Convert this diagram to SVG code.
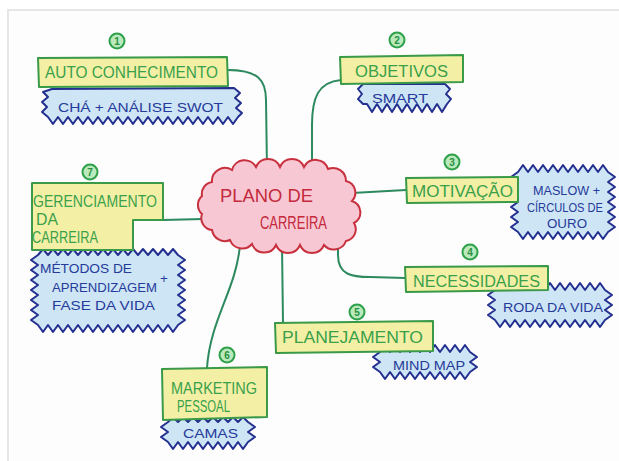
<svg xmlns="http://www.w3.org/2000/svg" width="619" height="461" viewBox="0 0 619 461">
<style>
.box{fill:#f3f0a6;stroke:#3a9a48;stroke-width:2;stroke-linejoin:round}
.cloud{fill:#cde5f5;stroke:#24308f;stroke-width:2;stroke-linejoin:round}
.center{fill:#f7c8d4;stroke:#c8303e;stroke-width:2}
.conn{fill:none;stroke:#2d8a5f;stroke-width:2;stroke-linecap:round}
.num{fill:#b9e9bd;stroke:#2fa04a;stroke-width:2}
.numt{font-family:"Liberation Sans",Arial,sans-serif;font-size:10px;font-weight:bold;fill:#2a9040;text-anchor:middle}
.bt{font-family:"Liberation Sans",Arial,sans-serif;font-size:16px;fill:#3aa04a}
.ct{font-family:"Liberation Sans",Arial,sans-serif;font-size:13.5px;fill:#253a9a}
.rt{font-family:"Liberation Sans",Arial,sans-serif;font-size:19px;fill:#c42a3c}
</style>
<rect x="0" y="0" width="619" height="461" fill="#ffffff"/>
<rect x="8" y="10" width="612" height="452" fill="#fdfdfd"/>
<path d="M8,461 L8,10 L619,10" fill="none" stroke="#e6e6e6" stroke-width="2"/>

<g id="connectors">
<path class="conn" d="M228,70 C258,70 266,80 266,100 L267,169"/>
<path class="conn" d="M341,80 C318,82 312,98 312,125 L312,168"/>
<path class="conn" d="M352,193 L406,190"/>
<path class="conn" d="M338,245 L338,255 C338,275 352,277 370,277 L405,278"/>
<path class="conn" d="M282,245 L283,323"/>
<path class="conn" d="M240,245 C236,290 210,320 207,368"/>
<path class="conn" d="M163,220 L203,219"/>
</g>

<g id="center">
<path class="center" d="M212,182 a13,13 0 0 1 20,-12 a13,13 0 0 1 24,-3 a13,13 0 0 1 24,0 a13,13 0 0 1 24,0 a13,13 0 0 1 24,2 a13,13 0 0 1 18,12 a12,12 0 0 1 6,20 a12,12 0 0 1 2,22 a12,12 0 0 1 -8,18 a13,13 0 0 1 -22,4 a13,13 0 0 1 -24,0 a13,13 0 0 1 -24,0 a13,13 0 0 1 -24,-1 a13,13 0 0 1 -22,-4 a13,13 0 0 1 -18,-10 a12,12 0 0 1 -10,-16 a12,12 0 0 1 0,-18 a12,12 0 0 1 10,-14 Z"/>
<text class="rt" x="220" y="202" textLength="93" lengthAdjust="spacingAndGlyphs">PLANO DE</text>
<text class="rt" x="260" y="229" textLength="67" lengthAdjust="spacingAndGlyphs">CARREIRA</text>
</g>

<g id="n1">
<circle class="num" cx="117" cy="41" r="7.5"/><text class="numt" x="117" y="44.5">1</text>
<path class="cloud" d="M52,89 L234,88 l6,5 -5,5 6,5 -5,5 6,5 -4,4 l-5,7 -5,-7 -5,7 -5,-7 -5,7 -5,-7 -5,7 -5,-7 -5,7 -5,-7 -5,7 -5,-7 -5,7 -5,-7 -5,7 -5,-7 -5,7 -5,-7 -5,7 -5,-7 -5,7 -5,-7 -5,7 -5,-7 -5,7 -5,-7 -5,7 -5,-7 -5,7 -5,-7 -5,7 -5,-7 -5,7 -5,-7 -5,7 -5,-7 -5,7 -5,-7 l-6,-5 5,-5 -5,-5 6,-5 -5,-5 Z"/>
<polygon class="box" points="38,58 227,57 228,86 39,87"/>
<text class="bt" x="45" y="78" textLength="173" lengthAdjust="spacingAndGlyphs">AUTO CONHECIMENTO</text>
<text class="ct" x="58" y="112" textLength="165" lengthAdjust="spacingAndGlyphs">CHÁ + ANÁLISE SWOT</text>
</g>

<g id="n2">
<circle class="num" cx="397" cy="40" r="7.5"/><text class="numt" x="397" y="43.5">2</text>
<path class="cloud" d="M363,84 L445,84 l5,5 -4,5 5,5 -4,5 l-5,8 -5,-8 -5,8 -5,-8 -5,8 -5,-8 -5,8 -5,-8 -5,8 -5,-8 -5,8 -5,-8 -5,8 -5,-8 -5,8 -5,-8 l-4,0 l-5,-5 4,-5 -4,-5 5,-5 Z"/>
<polygon class="box" points="340,57 463,55 463,82 341,84"/>
<text class="bt" x="355" y="77" textLength="93" lengthAdjust="spacingAndGlyphs">OBJETIVOS</text>
<text class="ct" x="372" y="103" textLength="56" lengthAdjust="spacingAndGlyphs">SMART</text>
</g>

<g id="n3">
<circle class="num" cx="452" cy="162" r="7.5"/><text class="numt" x="452" y="165.5">3</text>
<path class="cloud" d="M518,172 l5,-7 5,7 5,-7 5,7 5,-7 5,7 5,-7 5,7 5,-7 5,7 5,-7 5,7 5,-7 5,7 5,-7 5,7 5,-7 5,7 l7,5 -7,5 7,5 -7,5 7,5 -7,5 7,5 -7,5 7,5 -7,5 7,5 -7,5 l-5,7 -5,-7 -5,7 -5,-7 -5,7 -5,-7 -5,7 -5,-7 -5,7 -5,-7 -5,7 -5,-7 -5,7 -5,-7 -5,7 -5,-7 -5,7 -5,-7 l-7,-5 7,-5 -7,-5 7,-5 -7,-5 7,-5 -7,-5 7,-5 -7,-5 7,-5 -7,-5 7,-5 Z"/>
<polygon class="box" points="406,178 518,177 518,202 407,203"/>
<text class="bt" x="412" y="197" textLength="101" lengthAdjust="spacingAndGlyphs">MOTIVAÇÃO</text>
<text class="ct" x="533" y="195" textLength="67" lengthAdjust="spacingAndGlyphs">MASLOW +</text>
<text class="ct" x="527" y="212" textLength="76" lengthAdjust="spacingAndGlyphs">CÍRCULOS DE</text>
<text class="ct" x="547" y="228" textLength="40" lengthAdjust="spacingAndGlyphs">OURO</text>
</g>

<g id="n4">
<circle class="num" cx="470" cy="252" r="7.5"/><text class="numt" x="470" y="255.5">4</text>
<path class="cloud" d="M495,290 l5,-7 5,7 5,-7 5,7 5,-7 5,7 5,-7 5,7 5,-7 5,7 5,-7 5,7 5,-7 5,7 5,-7 5,7 5,-7 5,7 5,-7 5,7 5,-7 5,7 l7,5 -7,5 7,5 -7,5 7,5 -7,5 l-5,7 -5,-7 -5,7 -5,-7 -5,7 -5,-7 -5,7 -5,-7 -5,7 -5,-7 -5,7 -5,-7 -5,7 -5,-7 -5,7 -5,-7 -5,7 -5,-7 -5,7 -5,-7 -5,7 -5,-7 l-7,-5 7,-5 -7,-5 7,-5 -7,-5 7,-5 Z"/>
<polygon class="box" points="405,267 548,266 548,290 406,292"/>
<text class="bt" x="413" y="287" textLength="127" lengthAdjust="spacingAndGlyphs">NECESSIDADES</text>
<text class="ct" x="503" y="312" textLength="100" lengthAdjust="spacingAndGlyphs">RODA DA VIDA</text>
</g>

<g id="n5">
<circle class="num" cx="357" cy="312" r="7.5"/><text class="numt" x="357" y="315.5">5</text>
<path class="cloud" d="M380,352 l5,-7 5,7 5,-7 5,7 5,-7 5,7 5,-7 5,7 5,-7 5,7 5,-7 5,7 5,-7 5,7 5,-7 5,7 5,-7 5,7 l7,5 -7,5 7,5 -7,5 l-5,7 -5,-7 -5,7 -5,-7 -5,7 -5,-7 -5,7 -5,-7 -5,7 -5,-7 -5,7 -5,-7 -5,7 -5,-7 -5,7 -5,-7 -5,7 -5,-7 l-7,-5 7,-5 -7,-5 7,-5 Z"/>
<polygon class="box" points="275,323 433,321 433,351 276,353"/>
<text class="bt" x="282" y="343" textLength="141" lengthAdjust="spacingAndGlyphs">PLANEJAMENTO</text>
<text class="ct" x="393" y="370" textLength="72" lengthAdjust="spacingAndGlyphs">MIND MAP</text>
</g>

<g id="n6">
<circle class="num" cx="227" cy="355" r="7.5"/><text class="numt" x="227" y="358.5">6</text>
<path class="cloud" d="M168,422 l5,-5 5,5 5,-5 5,5 5,-5 5,5 5,-5 5,5 5,-5 5,5 5,-5 5,5 5,-5 5,5 5,-5 5,5 l7,5 -7,5 7,5 -7,5 l-5,7 -5,-7 -5,7 -5,-7 -5,7 -5,-7 -5,7 -5,-7 -5,7 -5,-7 -5,7 -5,-7 -5,7 -5,-7 -5,7 -5,-7 l-7,-5 7,-5 -7,-5 7,-5 Z"/>
<polygon class="box" points="162,369 267,367 267,417 163,420"/>
<text class="bt" x="171" y="394" textLength="86" lengthAdjust="spacingAndGlyphs">MARKETING</text>
<text class="bt" x="177" y="412" textLength="53" lengthAdjust="spacingAndGlyphs">PESSOAL</text>
<text class="ct" x="183" y="438" textLength="55" lengthAdjust="spacingAndGlyphs">CAMAS</text>
</g>

<g id="n7">
<circle class="num" cx="90" cy="172" r="7.5"/><text class="numt" x="90" y="175.5">7</text>
<path class="cloud" d="M38,255 l5,-6 5,6 5,-6 5,6 5,-6 5,6 5,-6 5,6 5,-6 5,6 5,-6 5,6 5,-6 5,6 5,-6 5,6 5,-6 5,6 5,-6 5,6 5,-6 5,6 5,-6 5,6 5,-6 5,6 5,-6 5,6 l7,5 -7,5 7,5 -7,5 7,5 -7,5 7,5 -7,5 7,5 -7,5 7,5 -7,5 7,5 -7,5 l-5,7 -5,-7 -5,7 -5,-7 -5,7 -5,-7 -5,7 -5,-7 -5,7 -5,-7 -5,7 -5,-7 -5,7 -5,-7 -5,7 -5,-7 -5,7 -5,-7 -5,7 -5,-7 -5,7 -5,-7 -5,7 -5,-7 -5,7 -5,-7 -5,7 -5,-7 l-7,-5 7,-5 -7,-5 7,-5 -7,-5 7,-5 -7,-5 7,-5 -7,-5 7,-5 -7,-5 7,-5 -7,-5 7,-5 Z"/>
<polygon class="box" points="32,183 163,183 163,220 133,220 133,250 32,250"/>
<text class="bt" x="33" y="207" textLength="124" lengthAdjust="spacingAndGlyphs">GERENCIAMENTO</text>
<text class="bt" x="36" y="225" textLength="22" lengthAdjust="spacingAndGlyphs">DA</text>
<text class="bt" x="32" y="243" textLength="66" lengthAdjust="spacingAndGlyphs">CARREIRA</text>
<text class="ct" x="40" y="273" textLength="92" lengthAdjust="spacingAndGlyphs">MÉTODOS DE</text>
<text class="ct" x="52" y="292" textLength="105" lengthAdjust="spacingAndGlyphs">APRENDIZAGEM</text>
<text class="ct" x="160" y="283">+</text>
<text class="ct" x="52" y="310" textLength="103" lengthAdjust="spacingAndGlyphs">FASE DA VIDA</text>
</g>
</svg>
